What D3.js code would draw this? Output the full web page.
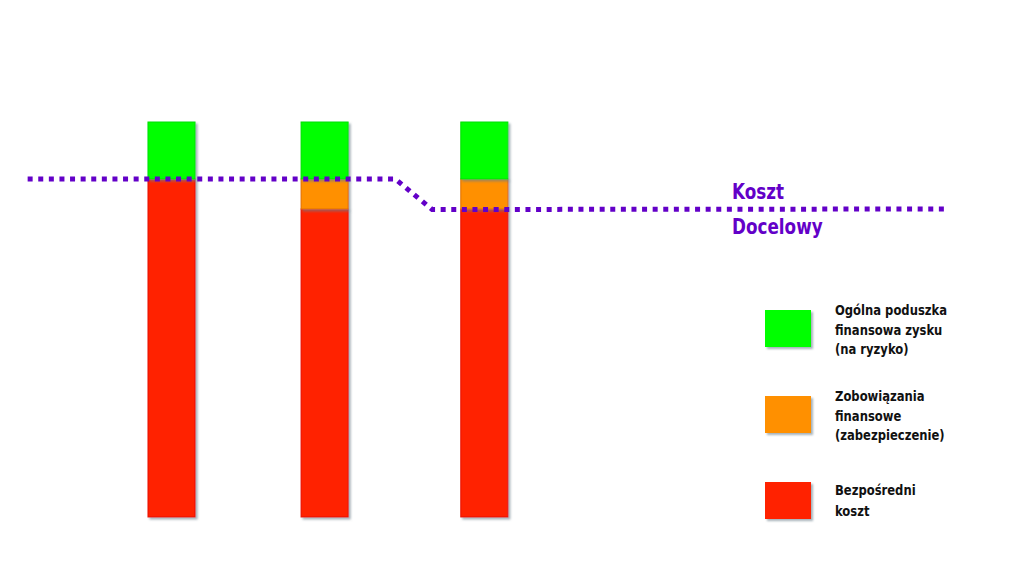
<!DOCTYPE html>
<html>
<head>
<meta charset="utf-8">
<script src="https://cdn.jsdelivr.net/npm/d3@7"></script>
<style>
  body { margin: 0; background: #fff; }
  svg { display: block; }
</style>
</head>
<body>
<div id="chart"></div>
<script>
// bar positions (chart units on the x axis) and stacked values
const barPos = [16.75, 31.7, 47.3];
const directCost = [67.6, 61.6, 61.6];
const obligations = [0, 6, 6];
const cushion = [11.4, 11.4, 11.4];

// target cost line
const targetX = [2.7, 38.6, 42.2, 92.6];
const targetY = [67.6, 67.6, 61.5, 61.6];

const seriesColors = ['#ff2200', '#ff9000', '#00ff00'];
const seriesStroke = ['#e81000', '#e07000', '#00e000'];

const legendLines = [
  ['Ogólna poduszka', 'finansowa zysku', '(na ryzyko)'],
  ['Zobowiązania', 'finansowe', '(zabezpieczenie)'],
  ['Bezpośredni', 'koszt']
];
const legendColors = ['#00ff00', '#ff9000', '#ff2200'];

const W = 1024, H = 576;
const svg = d3.select('#chart').append('svg')
  .attr('width', W)
  .attr('height', H);

const defs = svg.append('defs');
const f = defs.append('filter').attr('id', 'shadow')
  .attr('x', '-20%').attr('y', '-20%').attr('width', '150%').attr('height', '150%');
f.append('feDropShadow')
  .attr('dx', 2).attr('dy', 2).attr('stdDeviation', 1)
  .attr('flood-color', '#6a7f8a').attr('flood-opacity', 0.6);

const x = d3.scaleLinear().domain([0, 100]).range([0, W]);
const y = d3.scaleLinear().domain([0, 79]).range([517, 122]);
const barW = x(4.6) - x(0);

// stack data
const rows = barPos.map((p, i) => ({ pos: p, s0: directCost[i], s1: obligations[i], s2: cushion[i] }));
const stack = d3.stack().keys(['s0', 's1', 's2'])(rows);

const groups = svg.selectAll('g.series')
  .data(stack)
  .enter()
  .append('g')
  .attr('class', 'series');

groups.selectAll('rect')
  .data((d, k) => d.map(v => ({ v, k })))
  .enter()
  .filter(d => d.v[1] - d.v[0] > 0)
  .append('rect')
  .attr('x', d => x(d.v.data.pos) - barW / 2)
  .attr('y', d => y(d.v[1]))
  .attr('width', barW)
  .attr('height', d => y(d.v[0]) - y(d.v[1]))
  .attr('fill', d => seriesColors[d.k])
  .attr('stroke', d => seriesStroke[d.k])
  .attr('stroke-width', 1)
  .attr('filter', 'url(#shadow)');

// target line
const pts = targetX.map((v, i) => [x(v), y(targetY[i])]);
svg.append('path')
  .attr('d', d3.line()(pts))
  .attr('fill', 'none')
  .attr('stroke', '#6300c8')
  .attr('stroke-width', 5)
  .attr('stroke-dasharray', '5,5.6');

const font = '"DejaVu Sans Condensed", sans-serif';

// narrow the condensed font a bit more to match the original typeface
function label(px, py, size, sx, txt, color) {
  svg.append('text')
    .attr('transform', `translate(${px},${py}) scale(${sx},1)`)
    .attr('font-family', font).attr('font-weight', 'bold')
    .attr('font-size', size).attr('fill', color)
    .text(txt);
}
label(732, 199, 21, 0.89, 'Koszt', '#6300c8');
label(732, 234, 21, 0.89, 'Docelowy', '#6300c8');

// legend
const legTop = [310, 396, 482];
const legText = [315, 401, 495];
const leg = svg.selectAll('g.leg')
  .data(legendLines)
  .enter()
  .append('g')
  .attr('class', 'leg');

leg.append('rect')
  .attr('x', 765)
  .attr('y', (d, i) => legTop[i])
  .attr('width', 46)
  .attr('height', 37)
  .attr('fill', (d, i) => legendColors[i])
  .attr('filter', 'url(#shadow)');

leg.each(function(lines, i) {
  lines.forEach((s, j) => {
    d3.select(this).append('text')
      .attr('transform', `translate(835,${legText[i] + j * (i === 2 ? 21 : 19.5)}) scale(0.92,1)`)
      .attr('font-family', font)
      .attr('font-weight', 'bold')
      .attr('font-size', 14)
      .attr('fill', '#111')
      .text(s);
  });
});
</script>
</body>
</html>
